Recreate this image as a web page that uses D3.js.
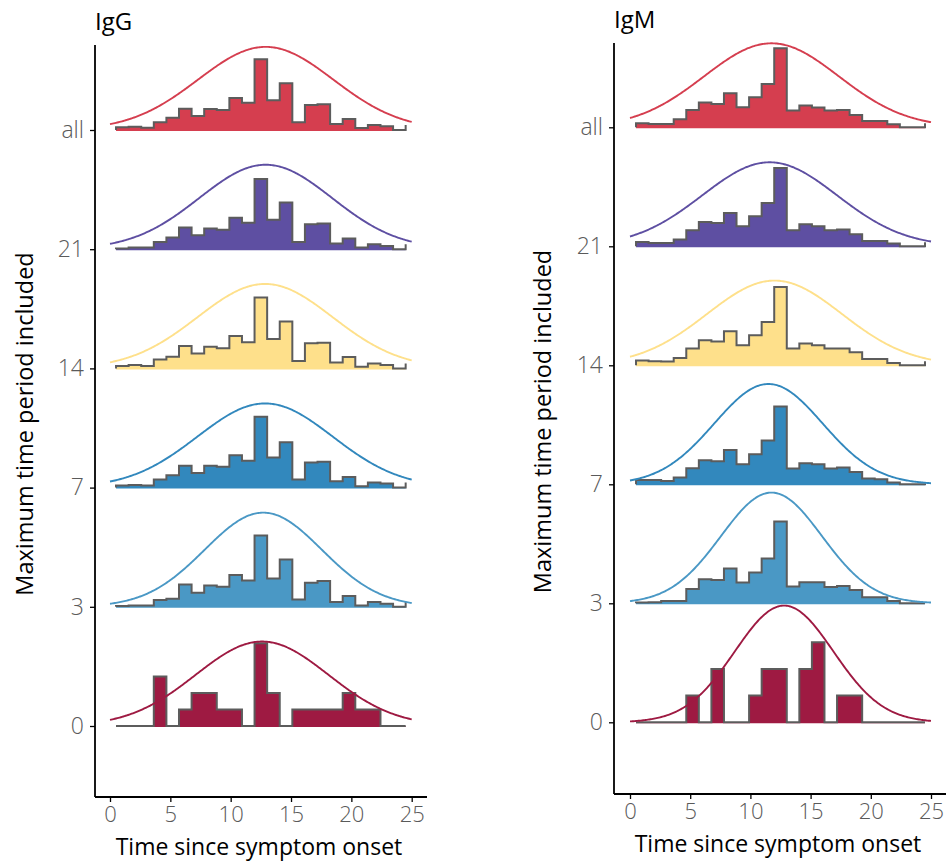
<!DOCTYPE html>
<html><head><meta charset="utf-8">
<script src="https://cdn.jsdelivr.net/npm/d3@7"></script>
<style>
body{margin:0;background:#fff}
svg{display:block}
text{font-family:'Open Sans','Noto Sans',sans-serif}
</style>
</head><body>
<svg id="chart" width="948" height="861"></svg>
<script>
// ---------- data ----------
const rowKeys = ["0", "3", "7", "14", "21", "all"];
const rowColors = ["#9E1A42", "#4A98C5", "#3288BD", "#FEE08B", "#5E4FA2", "#D53E4F"];
const xTicks = [0, 5, 10, 15, 20, 25];
const binStart = 0.5, binEnd = 24.5, binCount = 23;

// histogram heights per bin (relative ridge units)
const igG_0   = [0,0,0,49.5,0,16.5,33,33,16.5,16.5,0,82.5,33,0,16.5,16.5,16.5,16.5,33,16.5,16.5,0,0];
const igG_3   = [0.7,1.3,1.3,6.7,8,22.3,14,21.3,20,31.7,26.3,71.3,28.3,47.3,7.3,24,25.7,4.7,10.7,1.3,4.7,3,0];
const igG_7   = [2,2.7,2,8,12.3,21.7,14.7,21.7,20.7,32.3,26.7,70.7,30,45.3,8,25,25.7,6.3,10.7,1.3,5,4,0];
const igG_14  = [2.3,3.3,2.3,9,11.7,22.3,15,21.7,20,32.3,26,70.7,29.3,46.7,7.3,25,25.7,6,11.3,1.7,5,3.3,0];
const igG_21  = [0.7,1.7,1.7,7.3,11.7,21.7,14,20.7,19.3,31.3,26.3,70,29.3,46.7,7.3,25,25.7,5.7,10.7,1.7,5,3.3,0];
const igG_all = [2.7,3.3,2.3,7.7,12.3,21.3,14,21,20,32,27.3,70.7,29.7,46.7,7.7,25,25.7,6,11,2,5,3.7,0];
const igG_tail = [0, 5, 5, 5, 5, 5];

const igM_0   = [0,0,0,0,26.7,0,53.3,0,0,26.7,53.3,53.3,0,53.3,80,0,26.7,26.7,0,0,0,0,0];
const igM_3   = [0.7,1,2.3,2.3,14.3,24,23.3,34.7,20.7,30.7,44.7,81.7,16.7,21,21,16.3,17.3,13.3,6,6,2.3,0,0];
const igM_7   = [4.3,4.3,3.3,6.7,16,24,23,34.3,20,30,43.7,77.7,15.7,21,20,15.7,16.7,12.3,5.7,5,1.7,0,0];
const igM_14  = [4.7,4,3.7,7.3,16.7,25,23.7,34,20,30,43.3,78.3,16.7,21.7,20,16.7,16.7,13,6.3,6.3,2.3,0,0];
const igM_21  = [4.3,3.3,3.3,6.7,16,24.3,23.3,33.3,20,30,43.3,78.3,16,22,20,16,16.7,12,5.3,5.3,2.7,0,0];
const igM_all = [4,3.3,3.3,8,17.3,24.7,23.3,34,20,30,43.3,79,16.7,21.7,19.7,16.7,17.3,12.3,6.3,6.3,3,0,0];
const igM_tail = [0, 0, 1, 4, 4, 4];

// fitted normal curves (peak height in ridge units, mean, sd)
const igG_curvePeak = [84.3, 94, 84, 84.3, 84.3, 83];
const igG_curveMean = [12.6, 12.7, 12.85, 12.85, 12.9, 12.9];
const igG_curveSd   = [5.5, 4.85, 5.6, 5.6, 5.5, 5.6];
const igM_curvePeak = [116.7, 110.7, 100.3, 84.7, 84, 84];
const igM_curveMean = [12.8, 11.75, 11.5, 12.0, 11.6, 11.75];
const igM_curveSd   = [4.1, 4.2, 4.5, 5.6, 5.6, 5.6];

// ---------- layout ----------
const panels = [
  { title: "IgG", hist: [igG_0, igG_3, igG_7, igG_14, igG_21, igG_all], tail: igG_tail,
    peak: igG_curvePeak, mean: igG_curveMean, sd: igG_curveSd,
    x0: 110, x1: 411.7, axisL: 95, axisR: 427, top: 45, bottom: 797, base0: 726, baseTop: 130,
    titleY: 30, yTitleX: 33 },
  { title: "IgM", hist: [igM_0, igM_3, igM_7, igM_14, igM_21, igM_all], tail: igM_tail,
    peak: igM_curvePeak, mean: igM_curveMean, sd: igM_curveSd,
    x0: 630, x1: 931, axisL: 614, axisR: 946, top: 43, bottom: 794, base0: 722.3, baseTop: 127.3,
    titleY: 28, yTitleX: 551 }
];

const svg = d3.select("#chart");
const edges = d3.range(binCount + 1).map(i => binStart + i * (binEnd - binStart) / binCount);

panels.forEach(p => {
  const g = svg.append("g");
  const x = d3.scaleLinear().domain([0, 25]).range([p.x0, p.x1]);
  const y = d3.scalePoint().domain(rowKeys).range([p.base0, p.baseTop]);
  const h = d3.scaleLinear().domain([0, 119]).range([0, y.step()]);

  // draw from top row to bottom row
  for (let r = rowKeys.length - 1; r >= 0; r--) {
    const key = rowKeys[r], base = y(key), vals = p.hist[r], col = rowColors[r];
    const pts = vals.map((v, i) => [edges[i], v]);
    pts.push([edges[binCount], vals[binCount - 1]]);
    const area = d3.area().curve(d3.curveStepAfter)
      .x(d => x(d[0])).y0(base + 1).y1(d => base - h(d[1]));
    g.append("path").attr("d", area(pts)).attr("fill", col).attr("stroke", "none");

    const lpts = [[edges[0], 0]].concat(vals.map((v, i) => [edges[i], v]));
    lpts.push([edges[binCount], p.tail[r]]);
    const line = d3.line().curve(d3.curveStepAfter)
      .x(d => x(d[0])).y(d => base - h(d[1]));
    g.append("path").attr("d", line(lpts)).attr("fill", "none")
      .attr("stroke", "#5c5c5c").attr("stroke-width", 2).attr("stroke-linejoin", "miter");

    const xs = d3.range(0, 25.0001, 0.1);
    const cl = d3.line().x(d => x(d))
      .y(d => base - h(p.peak[r] * Math.exp(-0.5 * Math.pow((d - p.mean[r]) / p.sd[r], 2))));
    g.append("path").attr("d", cl(xs)).attr("fill", "none")
      .attr("stroke", col).attr("stroke-width", 1.9);
  }

  // axes
  const xa = g.append("g").attr("transform", `translate(0,${p.bottom})`)
    .call(d3.axisBottom(x).tickValues(xTicks).tickSize(5).tickPadding(4));
  xa.select(".domain").remove();
  xa.selectAll("line").attr("stroke", "#000").attr("stroke-width", 1.3);
  xa.selectAll("text").attr("font-size", 22).attr("fill", "#5a5a5a").attr("font-weight", 300)
    .attr("font-family", "'Open Sans',sans-serif");

  const ya = g.append("g").attr("transform", `translate(${p.axisL},0)`)
    .call(d3.axisLeft(y).tickSize(5).tickPadding(6));
  ya.select(".domain").remove();
  ya.selectAll("line").attr("stroke", "#000").attr("stroke-width", 1.3);
  ya.selectAll("text").attr("font-size", 23).attr("fill", "#5a5a5a").attr("font-weight", 300)
    .attr("font-family", "'Open Sans',sans-serif");

  g.append("line").attr("x1", p.axisL).attr("x2", p.axisL).attr("y1", p.top).attr("y2", p.bottom)
    .attr("stroke", "#000").attr("stroke-width", 1.8);
  g.append("line").attr("x1", p.axisL).attr("x2", p.axisR).attr("y1", p.bottom).attr("y2", p.bottom)
    .attr("stroke", "#000").attr("stroke-width", 1.8);

  // titles
  g.append("text").attr("x", p.axisL).attr("y", p.titleY).attr("font-size", 24)
    .attr("fill", "#000").text(p.title);
  g.append("text").attr("x", (p.axisL + p.axisR) / 2 - 2).attr("y", p.bottom + 58)
    .attr("text-anchor", "middle").attr("font-size", 23).attr("fill", "#000")
    .text("Time since symptom onset");
  g.append("text").attr("transform", `translate(${p.yTitleX},${(p.top + p.bottom) / 2 + 3}) rotate(-90)`)
    .attr("text-anchor", "middle").attr("font-size", 23.5).attr("fill", "#000")
    .text("Maximum time period included");
});
</script>
</body></html>
